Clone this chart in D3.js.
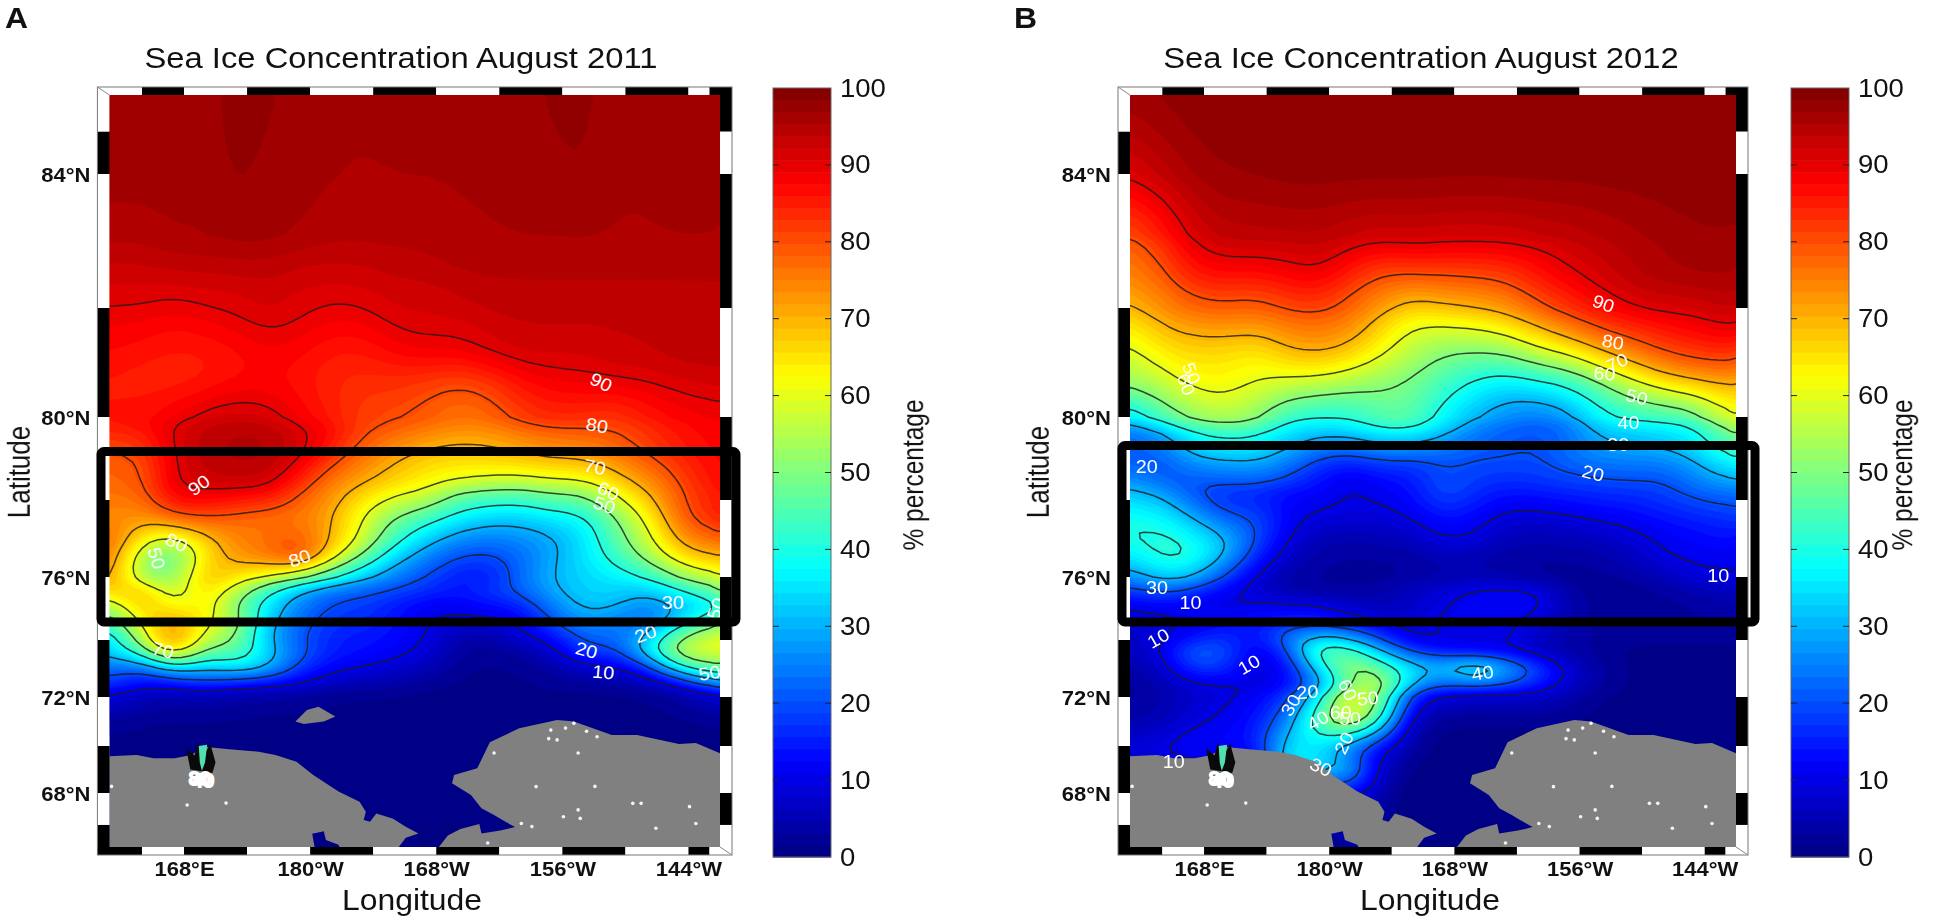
<!DOCTYPE html>
<html>
<head>
<meta charset="utf-8">
<script src="https://cdn.jsdelivr.net/npm/d3@7"></script>
<style>
html, body { margin: 0; padding: 0; background: #fff; }
svg { display: block; filter: blur(0.55px); }
text { font-family: "Liberation Sans", Arial, sans-serif; fill: #111; }
</style>
</head>
<body>
<svg id="chart" width="1950" height="924"></svg>
<script>
// sample positions of the ice grid
var gridLons = [160.5,164,167,170,173,176,179,182,185,188,191,194,197,200,203,206,209,212,215,218,219.5];
var gridLats = [85.5,84,83.1,82.66,82.2,81.7,81.15,80.6,80,79.6,79.05,78.55,78.1,77.55,77,76.5,76,75.55,75.1,74.6,74.1,73.6,73.05,72.5,72,71,70,69,68,65.5];

// sea ice concentration (%), one row per latitude
var ice2011 = [
	[97,97,97,97,98,98,97,97,96,97,97,97,97,97,98,98,97,98,97,98,97],
	[97,97,97,97,98,97,97,96,96,96,96,96,96,97,97,98,96,96,97,97,96],
	[95,95,96,96,97,97,96,95,95,95,95,96,96,96,96,96,96,96,96,96,96],
	[93,93,94,94,94,94,93,93,93,94,94,95,95,95,95,95,95,95,95,95,95],
	[90.5,91,90,91,91,92.5,91,90.5,91,92,92,93,94,94,94,94,94,94,94,94,94],
	[89,88,87,88,89.5,91,90,88,88,91,91,91,92,93,93,93,93,93,94,94,94],
	[87,86,85,85,86,88,87,85,85,87,89,88.5,91,92,92,91.5,93,93,94,94,94],
	[85,84,84,85,87,87,86,84,83,83,81,79,81,86,88,89,89.5,90,91,92,92],
	[86,87,89,92,93,92,88,85,81,80.5,79,76,77,82,84,83,81,85,87,88,88],
	[84,85,91,94,95,95,92,88,81,78,75,73,73,76,78.5,79,80,83,86,88,88],
	[78,79,91,94,95,95,92,83,76,70.5,67,66,67,69,71,71,75,80,84,87,87],
	[78,78,91,93,94,94,85,76,72,68,64,62.5,61,59.5,62,62,68,74,80.5,87,87],
	[76,77,90,89,88,87,79.5,73,66,60.5,59,47,45,44,49,48.5,60,69,79,85,85],
	[74,72,79.5,81,77,75.5,75,71,59.5,49,44,37,33,32,36,37,49,61,78,85,85],
	[83,62,56,67,75,77,80,70.5,59,43,33,26,24,26,28,34,46,57,72,78,78],
	[82,50,42,66,73,76,86,64,48,33,25,19,18,22,29,35,42,52,65,69.5,69],
	[78,50,50,72,64,59,51,40,31,24,19,14,13,23,31,33,36,39,50,57,59],
	[65,72,52,68,56,41,29,23,21,19,17,14,18,21,29,34,33,31,38,46,52],
	[50,73,58,67,49,35,25,19,18,15,10.5,11,13,15,25,32,32,24,29.5,36,42],
	[40,65,74,62,55,32,22,17,17,14,10,9,9,10,20,29,24,22,33,45,48],
	[28,58,78,56,52,29,20.5,15,14,13,10.5,4,3,9,12,22,22,30,50,60,60],
	[30,45,74,45,49,33,22,15,14,12,9,3,2,3,7,20,17,35,58,60,60],
	[24,20.5,38,31,38,32,18,12,10,8,6,2,1,2,3,8,9,15,40,50,48],
	[20,11,13,18,14,13,10,6,5,4,2,1,1,1,2,2,3,5,10,25,25],
	[10,5,4,4,3,2,2,1,1,1,1,1,1,1,1,1,1,1,2,6,8],
	[2,1,1,1,1,1,1,1,1,1,1,1,1,1,1,1,1,1,1,1,1],
	[1,1,1,1,1,1,1,1,1,1,1,1,1,1,1,1,1,1,1,1,1],
	[0,0,0,0,0,0,0,0,0,0,0,0,0,0,0,0,0,0,0,0,0],
	[0,0,0,0,0,0,0,0,0,0,0,0,0,0,0,0,0,0,0,0,0],
	[0,0,0,0,0,0,0,0,0,0,0,0,0,0,0,0,0,0,0,0,0]
];

var ice2012 = [
	[99,99,99,99,99,99,99,99,99,99,99,99,99,99,99,99,99,99,99,99,99],
	[91,95,97,98,98,99,99,99,99,99,99,99,99,99,99,99,99,99,99,99,99],
	[77,84,91,94,94,94,94,93,92.5,93,92,92,92,93,93,94,95,96,97,97,97],
	[75,80.5,88,89.5,89,90,92,87,82.5,85,84,84,84.5,87,91,93,95,96,97,97,96],
	[71,76,81,82,80.5,84,85,80,75,71,74,75,77,83,86,89.5,93,94,94,95,94],
	[63,71,73,74,73,76,77,75,67,59,60.5,62,65.5,72,78,83,85,87,88,91,90],
	[56,64,65,65,62,69,71,68,61,55,49,48.5,49.5,57,60.5,69,75,80.5,83,84,81],
	[53,57,63,63,60.5,58,57,53,50,48,44,38,34,37,40,48,57,65,69,71,69],
	[30,46,52,56,52,40,37,39,47,48,36,30,25,22,26,37,40,40.5,42,59,58],
	[22,27,40,42,42,35,33,33,38,38,32,24,21,20,22,32,33,35,37,50,50],
	[20,20.5,30,32,32,27,19,17,21,19.5,20,20,20.5,19.5,24,26,26,27,30.5,40,40],
	[27,19,21,22,24,20,14,9.5,13,14,21,18,17,18,19,20,21,19.5,25,30.5,31],
	[34,30,19,15,14,11,12,9,11,13,21,16,13,14,15,16,16,18,21,22,22],
	[40,38,30,19.5,21,12,9,9.5,8,10.5,14,12,8,8,9,11,12,14,15,17,18],
	[40,43,38,33,20,9.5,5,4,5,6,10.8,10,5,5,5,6,8,11,12,14,11],
	[33,43,42,30,15,7,3,3,3,3,5,4,3,3,3,4,6,10,11,11,11],
	[24,34,30,18,8,3,3,2,2,3,4,5,4,2,2,2,3,5,9,9.5,10],
	[16,22,17,11,8,4,3,3,4,7,9,11,12,11,3,2,2,3,5,6,6],
	[10,12,10,9,10.5,11,10.5,7,5,7,9.5,12,13,12,4,2,2,2,3,4,4],
	[7,9,10,12,14,15,14,12,8,8,12,10,11,8,4,2,2,2,3,3,3],
	[6,9,13,18,12,25,33,28,18,7,10,9,12,7,4,3,2,2,2,2,2],
	[5,10,24,21,8,17,50,46,30,18,12,10,9,5,3,2,1,1,1,1,1],
	[3,7,20,18,8,10.5,36,56,46,34,32,44,30,20,8,3,1,1,1,1,1],
	[2,5,9,10,9,11,24,50,60,30,22,26,22,16,8,3,1,1,1,1,1],
	[2,4,7,9,11,17,34,66,52,12,8,6,7,7,4,1,1,1,1,1,1],
	[3,5,9,11,14,24,52,70,42,3,1,1,1,1,1,1,1,1,1,1,1],
	[9,11,14,13,13,38,32,15,10,2,1,1,1,1,1,1,1,1,1,1,1],
	[8,8,8,8,5,42,40,36,5,1,0,0,0,0,0,0,0,0,0,0,0],
	[0,0,0,0,0,0,0,15,3,0,0,0,0,0,0,0,0,0,0,0,0],
	[0,0,0,0,0,0,0,0,0,0,0,0,0,0,0,0,0,0,0,0,0]
];

// contour labels: value, lon, lat, angle
var labels2011 = [
	[90,207.7,80.64,25],[80,207.3,79.8,10],[70,207.1,78.8,10],[60,208.4,78.22,25],[50,208,77.87,20],
	[90,169.4,78.36,-35],[80,167.3,76.9,25],[50,165.4,76.49,75],[80,179,76.49,-20],[70,166,73.65,15],
	[20,206.3,73.65,15],[10,207.9,72.88,5],[30,214.5,75.2,0],[20,211.9,74.2,-20],[50,218,72.85,-10],[50,218.6,75,-70]
];
var labels2012 = [
	[90,206.3,82.07,20],[80,207.2,81.38,10],[70,207.6,81,-25],[60,206.4,80.8,5],[50,209.5,80.37,15],
	[40,208.7,79.86,0],[30,207.7,79.33,0],[20,205.3,78.65,15],[10,217.3,76.03,0],[20,162.5,78.8,0],
	[30,163.5,75.68,0],[10,166.7,75.2,0],[10,163.6,74.06,-30],[10,172.3,73.14,-30],[20,177.9,72.18,-5],
	[30,176.3,71.67,-60],[10,165.1,69.32,0],[30,179.2,69.11,25],[20,181.4,70.12,-65],[60,181.8,72.25,65],
	[50,183.7,71.96,-5],[40,178.9,71.05,-30],[60,181.1,71.37,0],[50,182,71.12,0],[40,194.7,72.85,-10],
	[50,166.8,80.8,70],[60,166.3,80.6,70]
];

// coast lines as lon, lat
var siberia = [[160,69.55],[163.5,69.62],[165.1,69.48],[167.1,69.48],[168.7,69.62],[169.9,69.97],[172.3,69.86],[175.1,69.76],[176.7,69.62],[178.7,69.33],[180.3,68.77],[182.7,68.06],[184.7,67.63],[185.3,67.2],[185.1,66.85],[185.7,66.78],[186.3,67.13],[187.9,66.9],[189.1,66.56],[190.3,66.28],[189.1,66.1],[188.1,65.5],[183,65.5],[182.7,65.8],[181.5,66],[181.3,66.37],[180.2,66.27],[180.5,65.5],[160,65.5]];
var alaska = [[191.9,65.5],[193.1,66.19],[194.3,66.47],[196.1,66.68],[196.3,66.28],[198.1,66.4],[199.5,66.55],[198.3,66.85],[197.5,67.06],[196.3,67.35],[195.3,67.91],[193.5,68.41],[193.7,68.77],[195.9,69.05],[197.1,70.15],[198.1,70.36],[199.9,70.72],[202.3,70.95],[203.5,71.06],[205.1,71],[208.7,70.45],[211.1,70.45],[215.1,70.08],[216.7,70.12],[219.5,69.6],[219.5,65.5]];
var island = [[178.6,71],[179.7,71.47],[180.8,71.6],[182.4,71.2],[181.3,71],[179.4,70.9]];
var specks = [[168.3,67.49],[172,67.57],[161.1,68.28],[204.1,66.99],[205.5,67.28],[205.7,66.92],[207.1,68.28],[210.7,67.56],[211.5,67.56],[216.1,67.42],[216.7,66.7],[212.9,66.5],[201.1,66.57],[200.1,66.7],[197.5,69.7],[205.5,69.7],[203.5,70.25],[206.3,70.6],[204.3,70.73],[202.9,70.65],[205.1,70.93],[196.9,65.87],[201.5,68.27],[202.7,70.3],[207.3,70.38]];
var ventOuter = [[168.2,69.9],[168.6,69],[170.7,68.85],[171,69.3],[170.5,70.1],[169.9,69.6],[169.3,70.1],[169,69.6]];
var ventInner = [[169.4,70],[170.2,70.05],[170,69.3],[169.7,68.95],[169.5,69.3]];

var lonTicks = [168,180,192,204,216];
var lonTickNames = ['168°E','180°W','168°W','156°W','144°W'];
var latTicks = [84,80,76,72,68];
var lonEdges = [164,168,174,180,186,192,198,204,210,216,218];
var latEdges = [84.7,84,82,80,78,76,74,72,70,68,66.64];
var isoLevels = [10,20,30,40,50,60,70,80,90];
var barTicks = [0,10,20,30,40,50,60,70,80,90,100];

var svg = d3.select('#chart').append('g');
var stretch = 1.1; // the picture is wider than tall, text included

function jet(v) {
	var t = v / 100;
	function c(x) { return Math.round(255 * Math.max(0, Math.min(1, x))); }
	return 'rgb(' + c(Math.min(4*t - 1.5, -4*t + 4.5)) + ',' + c(Math.min(4*t - 0.5, -4*t + 3.5)) + ',' + c(Math.min(4*t + 0.5, -4*t + 2.5)) + ')';
}

function addText(g, x, y, str, size, weight, anchor, sx) {
	return g.append('text')
		.attr('transform', 'translate(' + x + ',' + y + ') scale(' + (sx || stretch) + ',1)')
		.attr('font-size', size)
		.attr('font-weight', weight)
		.attr('text-anchor', anchor)
		.text(str);
}

function addVertical(g, x, y, str, size) {
	return g.append('text')
		.attr('transform', 'translate(' + x + ',' + y + ') rotate(-90) scale(1,1.2)')
		.attr('font-size', size)
		.attr('text-anchor', 'middle')
		.text(str);
}

// finer copy of the grid so the contours come out round, only used for drawing
function smoothGrid(values, k) {
	var ny = values.length, nx = values[0].length;
	var w = (nx - 1) * k + 1, h = (ny - 1) * k + 1;
	var out = new Float64Array(w * h);
	for (var j = 0; j < h; j++) {
		var fy = j / k, y0 = Math.min(Math.floor(fy), ny - 2), ty = fy - y0;
		for (var i = 0; i < w; i++) {
			var fx = i / k, x0 = Math.min(Math.floor(fx), nx - 2), tx = fx - x0;
			out[j * w + i] = (values[y0][x0] * (1-tx) + values[y0][x0+1] * tx) * (1-ty)
				+ (values[y0+1][x0] * (1-tx) + values[y0+1][x0+1] * tx) * ty;
		}
	}
	d3.blur2({data: out, width: w, height: h}, k / 3);
	return {data: out, w: w, h: h};
}

function drawPanel(p) {
	var g = svg.append('g');
	var top = 95, bottom = 847;

	var x = d3.scaleLinear().domain([160.9, 219]).range([p.left, p.right]);
	var y = d3.scaleLinear()
		.domain([85.5,84,82,80,78,76,74,72,70,68,66,65.5])
		.range([83.4,174,308,417,500,577,640,697,746,793,840,851.7]);

	var k = 4;
	var fine = smoothGrid(p.values, k);
	var lonAt = d3.scaleLinear().domain(gridLons.map(function(d, i) { return i * k + 0.5; })).range(gridLons).clamp(true);
	var latAt = d3.scaleLinear().domain(gridLats.map(function(d, i) { return i * k + 0.5; })).range(gridLats).clamp(true);
	var path = d3.geoPath(d3.geoTransform({
		point: function(a, b) { this.stream.point(x(lonAt(a)), y(latAt(b))); }
	}));
	var coast = d3.line().x(function(d) { return x(d[0]); }).y(function(d) { return y(d[1]); }).curve(d3.curveLinearClosed);

	g.append('clipPath').attr('id', 'clip' + p.id).append('rect')
		.attr('x', p.left).attr('y', top).attr('width', p.right - p.left).attr('height', bottom - top);
	var map = g.append('g').attr('clip-path', 'url(#clip' + p.id + ')');

	map.append('rect').attr('x', p.left).attr('y', top).attr('width', p.right - p.left).attr('height', bottom - top).attr('fill', jet(0));

	var bands = d3.contours().size([fine.w, fine.h]).thresholds(d3.range(0, 100, 1.5))(fine.data);
	map.append('g').selectAll('path').data(bands).enter().append('path')
		.attr('d', path)
		.attr('fill', function(d) { return jet(d.value + 0.75); })
		.attr('stroke', function(d) { return jet(d.value + 0.75); })
		.attr('stroke-width', 0.5);

	var lines = d3.contours().size([fine.w, fine.h]).thresholds(isoLevels)(fine.data);
	map.append('g').selectAll('path').data(lines).enter().append('path')
		.attr('d', path)
		.attr('fill', 'none')
		.attr('stroke', '#1a1a1a')
		.attr('stroke-opacity', 0.8)
		.attr('stroke-width', 1.5);

	// land on top of the field
	map.append('g').selectAll('path').data(p.land).enter().append('path')
		.attr('d', coast)
		.attr('fill', '#808080');
	map.append('g').selectAll('circle').data(specks).enter().append('circle')
		.attr('cx', function(d) { return x(d[0]); })
		.attr('cy', function(d) { return y(d[1]); })
		.attr('r', 1.8)
		.attr('fill', '#f4f4f4');
	map.append('path').datum(ventOuter).attr('d', coast).attr('fill', '#0a0a0a');
	map.append('path').datum(ventInner).attr('d', coast).attr('fill', '#4fe0b0');
	['80', '40'].forEach(function(t, i) {
		map.append('text')
			.attr('transform', 'translate(' + x(169.5 + i * 0.3) + ',' + y(68.35 - i * 0.1) + ') scale(' + stretch + ',1)')
			.attr('text-anchor', 'middle')
			.attr('font-size', 18)
			.style('fill', '#fff')
			.attr('stroke', '#fff')
			.attr('stroke-width', 2)
			.text(t);
	});

	// labels go over the land as well
	map.append('g').selectAll('text').data(p.labels).enter().append('text')
		.attr('transform', function(d) { return 'translate(' + x(d[1]) + ',' + y(d[2]) + ') rotate(' + d[3] + ') scale(' + stretch + ',1)'; })
		.attr('text-anchor', 'middle')
		.attr('dy', '0.36em')
		.attr('font-size', 18)
		.style('fill', '#fff')
		.text(function(d) { return d[0]; });

	// checkered map border
	var outerL = p.left - 12, outerR = p.right + 12, outerT = 87, outerB = 855;
	var xs = [outerL].concat(lonEdges.map(x), [outerR]);
	var ys = [outerT].concat(latEdges.map(y), [outerB]);
	function border(edges, horizontal, a, b, firstBlack) {
		g.append('g').selectAll('rect').data(d3.pairs(edges)).enter().append('rect')
			.attr('x', function(d) { return horizontal ? d[0] : a; })
			.attr('y', function(d) { return horizontal ? a : d[0]; })
			.attr('width', function(d) { return horizontal ? d[1] - d[0] : b - a; })
			.attr('height', function(d) { return horizontal ? b - a : d[1] - d[0]; })
			.attr('fill', function(d, i) { return (i % 2 === 0) === firstBlack ? '#000' : '#fff'; });
	}
	border(ys, false, outerL, p.left, false);
	border(ys, false, p.right, outerR, true);
	border(xs, true, outerT, top, false);
	border(xs, true, bottom, outerB, true);
	g.append('rect').attr('x', outerL).attr('y', outerT).attr('width', outerR - outerL).attr('height', outerB - outerT)
		.attr('fill', 'none').attr('stroke', '#777').attr('stroke-width', 1);
	g.append('line').attr('x1', outerL).attr('y1', outerT).attr('x2', p.left).attr('y2', top).attr('stroke', '#888');
	g.append('line').attr('x1', p.right).attr('y1', bottom).attr('x2', outerR).attr('y2', outerB).attr('stroke', '#888');

	// axes
	var xAxis = d3.axisBottom(x).tickValues(lonTicks).tickSize(0).tickFormat(function(d, i) { return lonTickNames[i]; });
	var xg = g.append('g').attr('transform', 'translate(0,862)').call(xAxis);
	xg.select('.domain').remove();
	xg.selectAll('text').attr('y', 0).attr('dy', '0.71em').attr('font-size', 20).attr('font-weight', 'bold')
		.attr('font-family', '"Liberation Sans", Arial, sans-serif')
		.attr('transform', 'scale(' + stretch + ',1)');

	var yAxis = d3.axisLeft(y).tickValues(latTicks).tickSize(0).tickFormat(function(d) { return d + '°N'; });
	var yg = g.append('g').attr('transform', 'translate(' + (outerL - 7) + ',1)').call(yAxis);
	yg.select('.domain').remove();
	yg.selectAll('text').attr('x', 0).attr('font-size', 20).attr('font-weight', 'bold')
		.attr('font-family', '"Liberation Sans", Arial, sans-serif')
		.attr('transform', 'scale(' + stretch + ',1)');

	// ice box
	g.append('rect')
		.attr('x', p.boxLeft).attr('y', p.boxTop)
		.attr('width', p.boxRight - p.boxLeft).attr('height', 622 - p.boxTop)
		.attr('rx', 3)
		.attr('fill', 'none')
		.attr('stroke', '#000')
		.attr('stroke-width', 9);

	addText(g, p.titleX, 68, p.title, 29, 'normal', 'middle', 1.13);
	addText(g, p.longX, 910, 'Longitude', 29, 'normal', 'middle');
	addText(g, p.letterX, 28, p.letter, 29, 'bold', 'start');
	addVertical(g, p.latX, 472, 'Latitude', 26);

	// colour bar
	var c = d3.scaleLinear().domain([0, 100]).range([857, 88]);
	var steps = d3.range(64);
	var bar = g.append('g');
	bar.selectAll('rect').data(steps).enter().append('rect')
		.attr('x', p.barLeft)
		.attr('y', function(d) { return c((d + 1) * 100 / 64); })
		.attr('width', 58)
		.attr('height', function(d) { return c(d * 100 / 64) - c((d + 1) * 100 / 64) + 0.5; })
		.attr('fill', function(d) { return jet((d + 0.5) * 100 / 64); });
	bar.append('rect').attr('x', p.barLeft).attr('y', 88).attr('width', 58).attr('height', 769)
		.attr('fill', 'none').attr('stroke', '#666').attr('stroke-width', 1);
	bar.selectAll('.mark').data(barTicks.slice(1, 10)).enter().append('path')
		.attr('class', 'mark')
		.attr('d', function(d) {
			return 'M' + p.barLeft + ',' + c(d) + 'h6M' + (p.barLeft + 58) + ',' + c(d) + 'h-6';
		})
		.attr('stroke', '#222');
	var barAxis = d3.axisRight(c).tickValues(barTicks).tickSize(0);
	var bg = g.append('g').attr('transform', 'translate(' + (p.barLeft + 67) + ',0)').call(barAxis);
	bg.select('.domain').remove();
	bg.selectAll('text').attr('x', 0).attr('font-size', 25)
		.attr('font-family', '"Liberation Sans", Arial, sans-serif')
		.attr('transform', 'scale(' + stretch + ',1)');
	addVertical(g, p.pctX, 475, '% percentage', 24.5);
}

drawPanel({
	id: 'a', letter: 'A', letterX: 5, title: 'Sea Ice Concentration August 2011', titleX: 401, longX: 412,
	left: 109.4, right: 720, values: ice2011, labels: labels2011, land: [siberia, alaska, island],
	boxLeft: 101, boxRight: 736, boxTop: 451.5, barLeft: 773, latX: 30, pctX: 923
});
drawPanel({
	id: 'b', letter: 'B', letterX: 1014, title: 'Sea Ice Concentration August 2012', titleX: 1421, longX: 1430,
	left: 1130, right: 1736, values: ice2012, labels: labels2012, land: [siberia, alaska],
	boxLeft: 1122, boxRight: 1755, boxTop: 445.5, barLeft: 1791, latX: 1049, pctX: 1912
});
</script>
</body>
</html>
